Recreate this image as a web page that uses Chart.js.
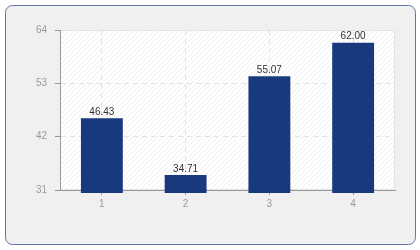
<!DOCTYPE html>
<html>
<head>
<meta charset="utf-8">
<script src="https://cdn.jsdelivr.net/npm/chart.js@4.4.0/dist/chart.umd.min.js"></script>
<style>
  html, body { margin: 0; padding: 0; background: #ffffff; }
  #wrap { position: relative; width: 420px; height: 250px; }
  canvas { display: block; }
</style>
</head>
<body>
<div id="wrap"><canvas id="c" width="420" height="250"></canvas></div>
<script>
const categories = ['1', '2', '3', '4'];
const values = [46.43, 34.71, 55.07, 62.00];
const yMin = 31, yMax = 64, yStep = 11;

const FONT = '"Liberation Sans", Arial, sans-serif';

function hatch() {
  const p = document.createElement('canvas');
  p.width = 5; p.height = 5;
  const g = p.getContext('2d');
  g.fillStyle = '#ffffff';
  g.fillRect(0, 0, 5, 5);
  g.strokeStyle = '#ededed';
  g.lineWidth = 1;
  g.beginPath();
  g.moveTo(-1, 6); g.lineTo(6, -1);
  g.moveTo(-1, 1); g.lineTo(1, -1);
  g.moveTo(4, 6); g.lineTo(6, 4);
  g.stroke();
  return p;
}

const bgPlugin = {
  id: 'bg',
  beforeDraw(chart) {
    const ctx = chart.ctx;
    const a = chart.chartArea;
    ctx.save();
    ctx.fillStyle = '#ffffff';
    ctx.fillRect(0, 0, chart.width, chart.height);
    ctx.beginPath();
    ctx.roundRect(5.5, 5.5, 410, 239, 7);
    ctx.fillStyle = '#f0f0f0';
    ctx.fill();
    ctx.strokeStyle = '#6473a8';
    ctx.lineWidth = 1;
    ctx.stroke();
    ctx.fillStyle = ctx.createPattern(hatch(), 'repeat');
    ctx.fillRect(a.left, a.top, a.right - a.left, a.bottom - a.top);
    ctx.strokeStyle = '#e4e4e4';
    ctx.strokeRect(a.left + 0.5, a.top + 0.5, a.right - a.left - 1, a.bottom - a.top - 1);
    ctx.restore();
  },
  beforeDatasetsDraw(chart) {
    chart.ctx.save();
    chart.ctx.translate(0, 3);
  },
  afterDatasetsDraw(chart) {
    const ctx = chart.ctx;
    const meta = chart.getDatasetMeta(0);
    ctx.fillStyle = '#333333';
    ctx.font = '10px ' + FONT;
    ctx.textAlign = 'center';
    ctx.textBaseline = 'bottom';
    meta.data.forEach((bar, i) => {
      ctx.fillText(values[i].toFixed(2), bar.x, bar.y - 1);
    });
    ctx.restore();
  }
};

new Chart(document.getElementById('c'), {
  type: 'bar',
  data: {
    labels: categories,
    datasets: [{
      data: values,
      backgroundColor: '#19397e',
      borderWidth: 0,
      barPercentage: 0.5,
      categoryPercentage: 1.0
    }]
  },
  options: {
    responsive: false,
    animation: false,
    devicePixelRatio: 1,
    layout: { padding: { left: 0, right: 25, top: 30, bottom: 0 } },
    plugins: { legend: { display: false }, tooltip: { enabled: false } },
    scales: {
      x: {
        offset: true,
        grid: {
          offset: false,
          color: '#e2e2e2',
          tickColor: '#999999',
          tickLength: 5,
          tickBorderDash: []
        },
        border: { display: true, color: '#999999', width: 1, dash: [5, 4] },
        ticks: { color: '#999999', font: { family: FONT, size: 10 }, padding: 3 },
        afterFit(s) { s.height = 60; }
      },
      y: {
        min: yMin,
        max: yMax,
        ticks: {
          stepSize: yStep,
          color: '#999999',
          font: { family: FONT, size: 10 },
          padding: 8
        },
        grid: {
          color: '#e2e2e2',
          tickColor: '#999999',
          tickLength: 5,
          tickBorderDash: []
        },
        border: { display: true, color: '#999999', width: 1, dash: [5, 4] },
        afterFit(s) { s.width = 60; }
      }
    }
  },
  plugins: [bgPlugin]
});
</script>
</body>
</html>
